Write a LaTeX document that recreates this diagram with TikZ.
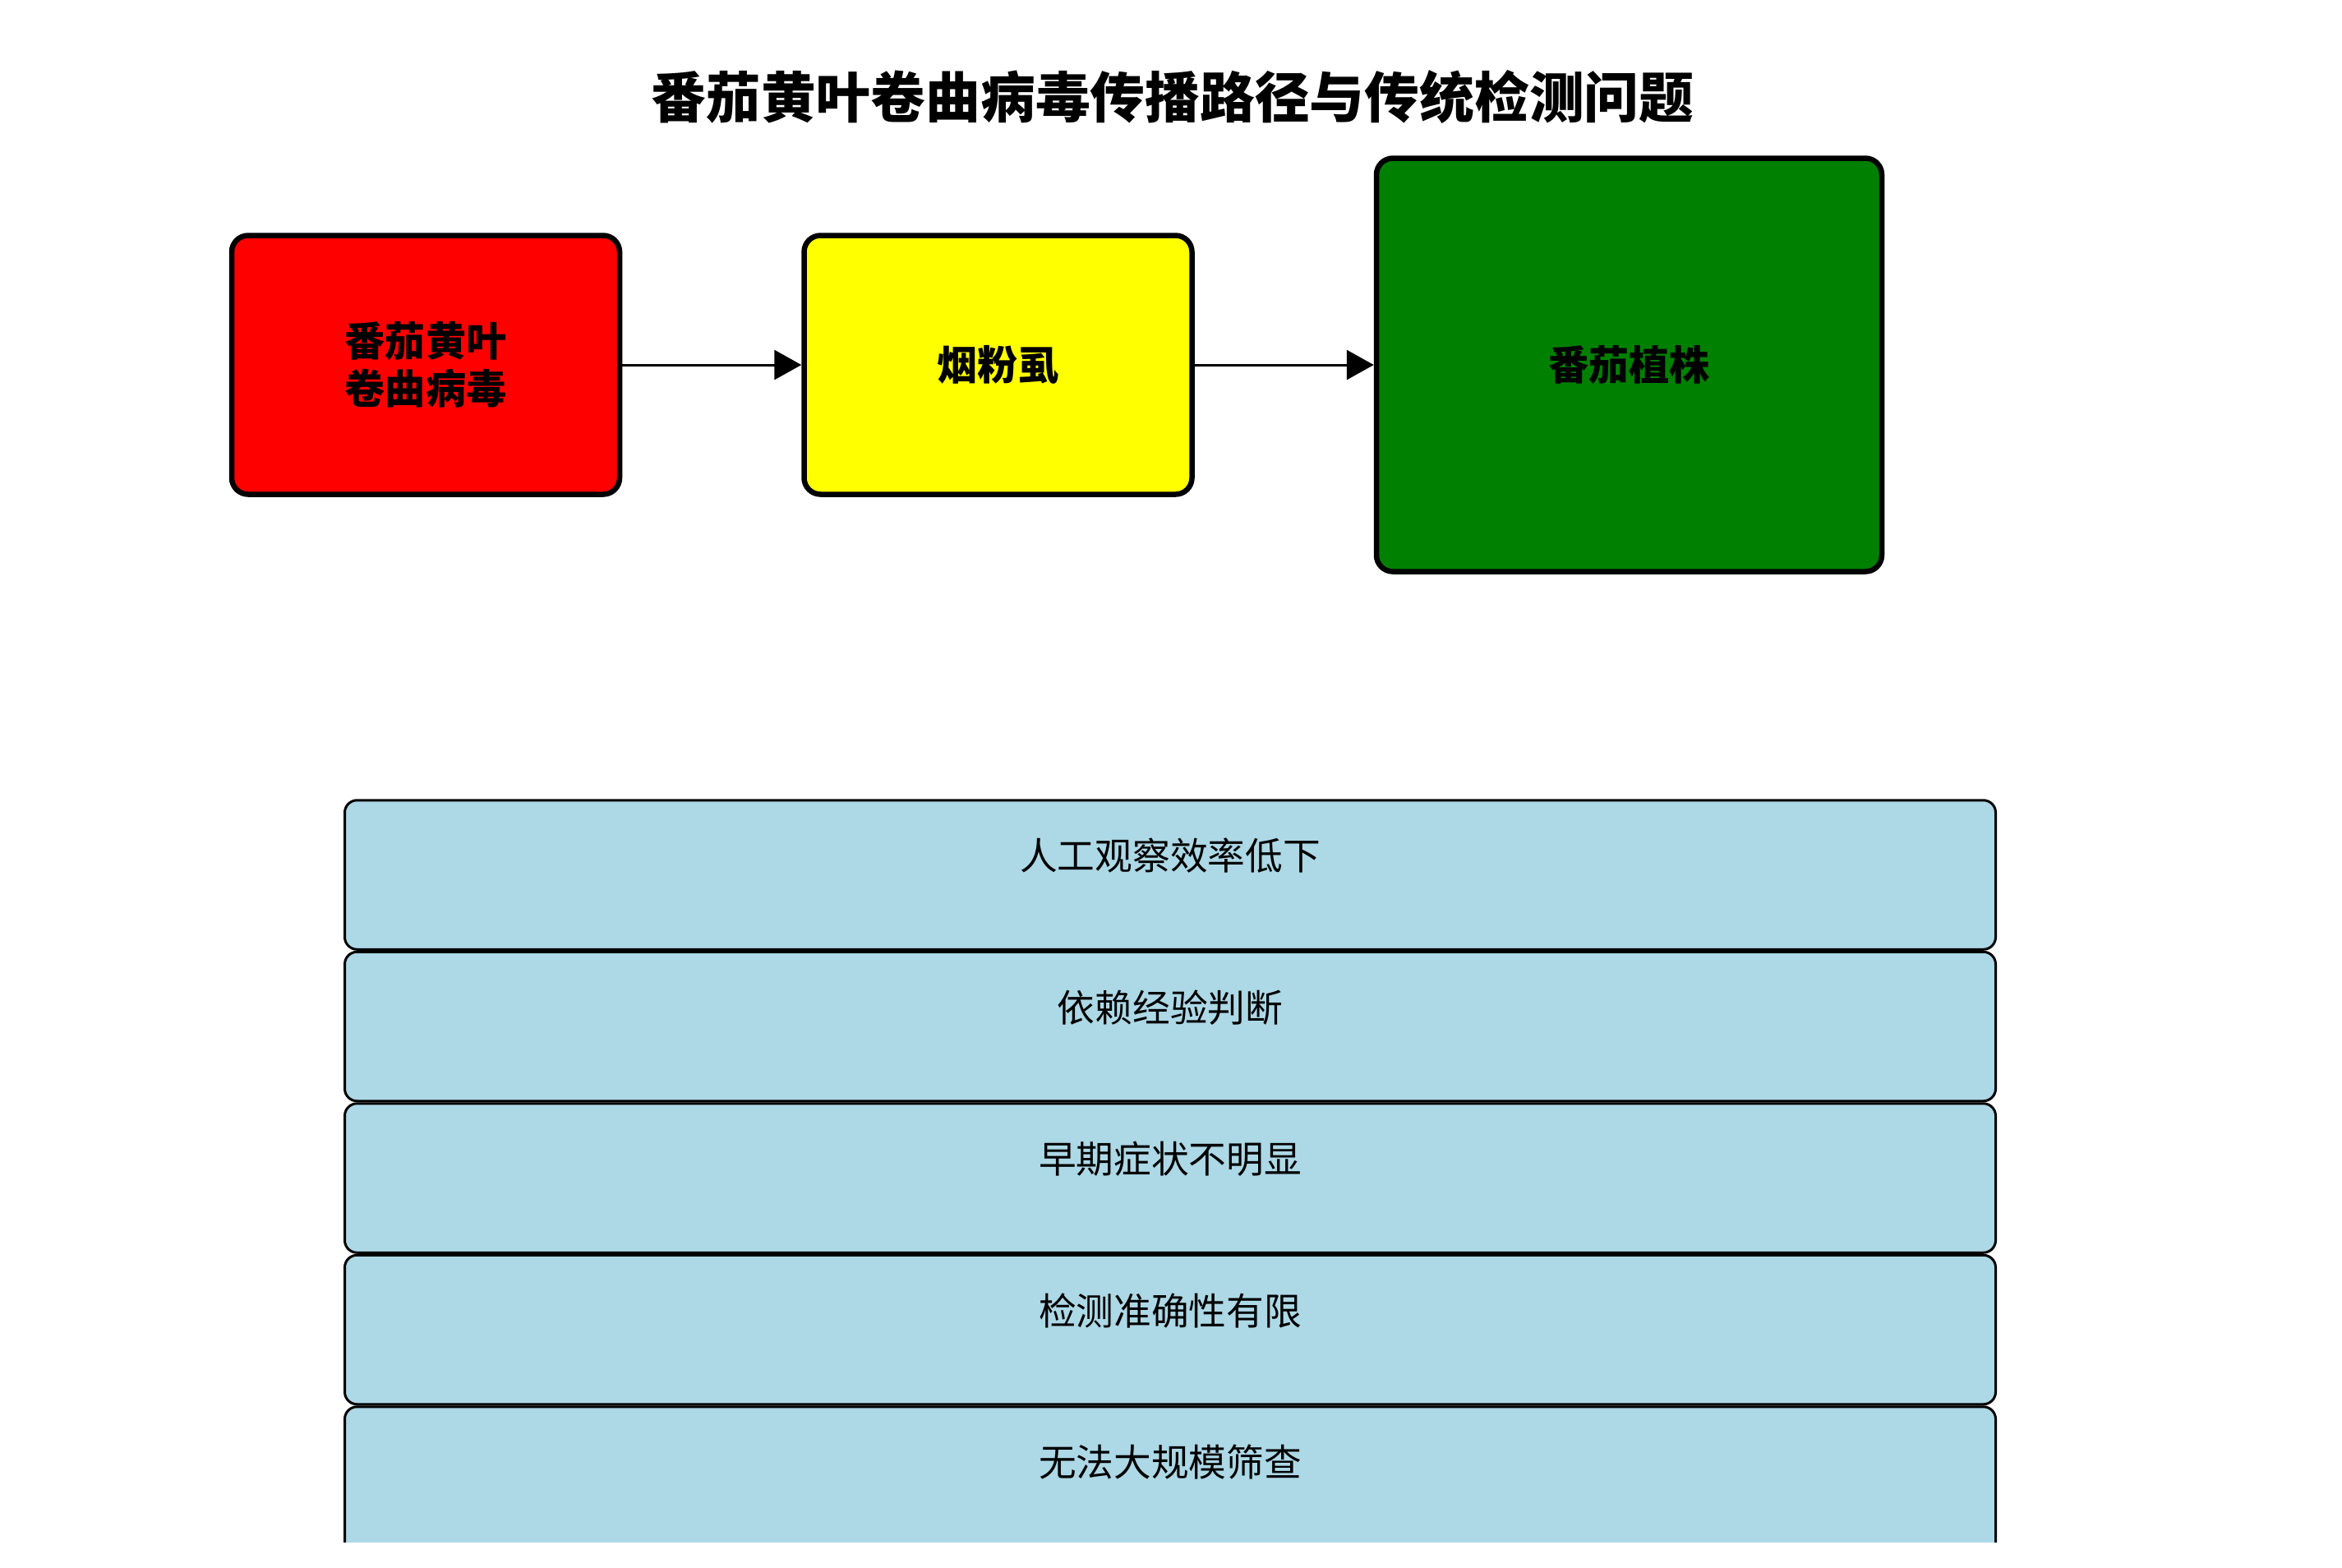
\documentclass[tikz,border=0pt]{standalone}
\usepackage{fontspec}
\newfontfamily\cjk{Noto Sans CJK SC}
\usetikzlibrary{arrows.meta,positioning}
\definecolor{virusred}{RGB}{255,0,0}
\definecolor{vectoryellow}{RGB}{255,255,0}
\definecolor{plantgreen}{RGB}{0,128,0}
\definecolor{problemblue}{RGB}{173,216,230}
\tikzset{
  flowbox/.style={draw, line width=0.065cm, rounded corners=0.2cm, align=center,
    font=\cjk\bfseries\fontsize{14}{16.5}\selectfont,
    minimum width=4.72cm, minimum height=3.15cm},
  problembox/.style={draw, line width=0.03cm, rounded corners=0.15cm, fill=problemblue,
    minimum width=20.09cm, minimum height=1.815cm},
  problemtext/.style={font=\cjk\fontsize{13}{15}\selectfont, anchor=center, yshift=-0.69cm},
  flowarrow/.style={-{Triangle[length=0.33cm, width=0.36cm]}, line width=0.03cm}
}

\begin{document}
\begin{tikzpicture}[node distance=2.18cm]
    \useasboundingbox (0,0) rectangle (28.5,-19.07);
    \node[font=\cjk\bfseries\fontsize{19}{23}\selectfont] (title) at (14.27,-1.18) {番茄黄叶卷曲病毒传播路径与传统检测问题};
    \node[flowbox, fill=virusred] (virus) at (5.18,-4.44) {番茄黄叶\\卷曲病毒};
    \node[flowbox, fill=vectoryellow, right=of virus] (whitefly) {烟粉虱};
    \node[flowbox, fill=plantgreen, right=of whitefly, minimum width=6.15cm, minimum height=5.03cm] (plant) {番茄植株};
    \draw[flowarrow] (virus) -- (whitefly);
    \draw[flowarrow] (whitefly) -- (plant);
    \begin{scope}
      \clip (0,0) rectangle (28.5,-18.76);
      \node[problembox, label={[problemtext]north:人工观察效率低下}] (prob1) at (14.24,-10.645) {};
      \node[problembox, below=0cm of prob1, label={[problemtext]north:依赖经验判断}] (prob2) {};
      \node[problembox, below=0cm of prob2, label={[problemtext]north:早期症状不明显}] (prob3) {};
      \node[problembox, below=0cm of prob3, label={[problemtext]north:检测准确性有限}] (prob4) {};
      \node[problembox, below=0cm of prob4, label={[problemtext]north:无法大规模筛查}] (prob5) {};
    \end{scope}
\end{tikzpicture}
\end{document}
